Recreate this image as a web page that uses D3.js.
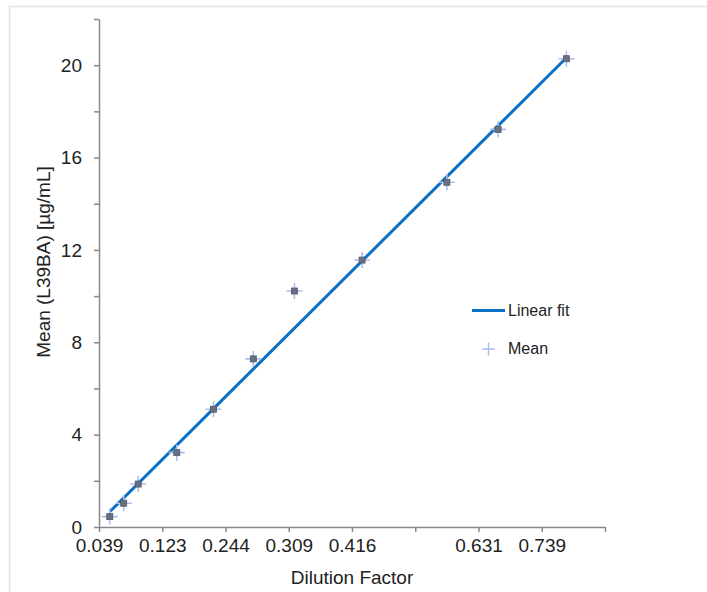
<!DOCTYPE html>
<html>
<head>
<meta charset="utf-8">
<script src="https://cdn.jsdelivr.net/npm/d3@7"></script>
<style>
  body { margin: 0; background: #fff; }
  text { font-family: "Liberation Sans", Arial, sans-serif; fill: #222; }
</style>
</head>
<body>
<div id="chart"></div>
<script>
// chart size
const width = 707;
const height = 592;
const margin = {left: 99, right: 102, top: 19, bottom: 65};

// data
const dilution = [0.017, 0.039, 0.062, 0.123, 0.181, 0.244, 0.309, 0.416, 0.550, 0.631, 0.739];
const meanValues = [0.45, 1.03, 1.86, 3.22, 5.10, 7.28, 10.22, 11.56, 14.93, 17.22, 20.28];
// linear fit end points
const fitX = [0.017, 0.739];
const fitY = [0.66, 20.32];
// axis ticks
const xTickValues = [0, 0.1, 0.2, 0.3, 0.4, 0.5, 0.6, 0.7, 0.8];
const xTickLabels = ["0.039", "0.123", "0.244", "0.309", "0.416", "", "0.631", "0.739", ""];
const yTickValues = [0, 2, 4, 6, 8, 10, 12, 14, 16, 18, 20, 22];
const yTickLabels = ["0", "", "4", "", "8", "", "12", "", "16", "", "20", ""];
const legendLabels = ["Linear fit", "Mean"];

const svg = d3.select("#chart")
  .append("svg")
  .attr("width", width)
  .attr("height", height);

// faint frame on top and left
svg.append("path")
  .attr("d", `M9.5,${height} V6.5 H${width}`)
  .attr("fill", "none")
  .attr("stroke", "#e3e3e3")
  .attr("stroke-width", 1.5);

const xScale = d3.scaleLinear()
  .domain([0, 0.8])
  .range([margin.left, width - margin.right]);

const yScale = d3.scaleLinear()
  .domain([0, 22])
  .range([height - margin.bottom, margin.top]);

// y axis
const yAxis = svg.append("g")
  .attr("transform", `translate(${margin.left},0)`)
  .call(d3.axisLeft(yScale)
    .tickValues(yTickValues)
    .tickFormat((d, i) => yTickLabels[i])
    .tickSize(5)
    .tickSizeOuter(0)
    .tickPadding(12));
yAxis.selectAll("path, line").attr("stroke", "#8a8a8a").attr("stroke-width", 1.5);
yAxis.selectAll("text").attr("font-size", "19px").attr("font-family", "Liberation Sans, Arial, sans-serif").attr("fill", "#222");

// x axis
const xAxis = svg.append("g")
  .attr("transform", `translate(0,${height - margin.bottom})`)
  .call(d3.axisBottom(xScale)
    .tickValues(xTickValues)
    .tickFormat((d, i) => xTickLabels[i])
    .tickSize(5)
    .tickSizeOuter(0)
    .tickPadding(7));
xAxis.selectAll("path, line").attr("stroke", "#8a8a8a").attr("stroke-width", 1.5);
xAxis.selectAll("text").attr("font-size", "19px").attr("font-family", "Liberation Sans, Arial, sans-serif").attr("fill", "#222");

// axis titles
svg.append("text")
  .attr("x", (margin.left + width - margin.right) / 2)
  .attr("y", 584)
  .attr("text-anchor", "middle")
  .attr("font-size", "19px")
  .text("Dilution Factor");

svg.append("text")
  .attr("transform", "translate(50,262) rotate(-90)")
  .attr("text-anchor", "middle")
  .attr("font-size", "19px")
  .text("Mean (L39BA) [µg/mL]");

// fit line
const line = d3.line()
  .x(d => xScale(d[0]))
  .y(d => yScale(d[1]));

svg.append("path")
  .datum(d3.zip(fitX, fitY))
  .attr("d", line)
  .attr("fill", "none")
  .attr("stroke", "#0a70c4")
  .attr("stroke-width", 3);

// mean points: light blue plus with a dark square on top
const points = svg.selectAll(".pt")
  .data(d3.zip(dilution, meanValues))
  .enter()
  .append("g")
  .attr("class", "pt")
  .attr("transform", d => `translate(${xScale(d[0])},${yScale(d[1])})`);

points.append("path")
  .attr("d", "M-8,0H8M0,-8V8")
  .attr("stroke", "#a9c0ee")
  .attr("stroke-width", 1.6);

points.append("rect")
  .attr("x", -3)
  .attr("y", -3)
  .attr("width", 6)
  .attr("height", 6)
  .attr("fill", "#6a7080")
  .attr("stroke", "#50586a")
  .attr("stroke-width", 0.8);

// legend
const legend = svg.append("g");
legend.append("line")
  .attr("x1", 472).attr("x2", 505)
  .attr("y1", 310.5).attr("y2", 310.5)
  .attr("stroke", "#0a70c4")
  .attr("stroke-width", 3);
legend.append("path")
  .attr("d", "M482,349H495M488.5,342.5V355.5")
  .attr("stroke", "#a9c0ee")
  .attr("stroke-width", 1.5);
legend.selectAll(".lg")
  .data(legendLabels)
  .enter()
  .append("text")
  .attr("class", "lg")
  .attr("x", 508)
  .attr("y", (d, i) => 316 + i * 38)
  .attr("font-size", "16px")
  .text(d => d);
</script>
</body>
</html>
